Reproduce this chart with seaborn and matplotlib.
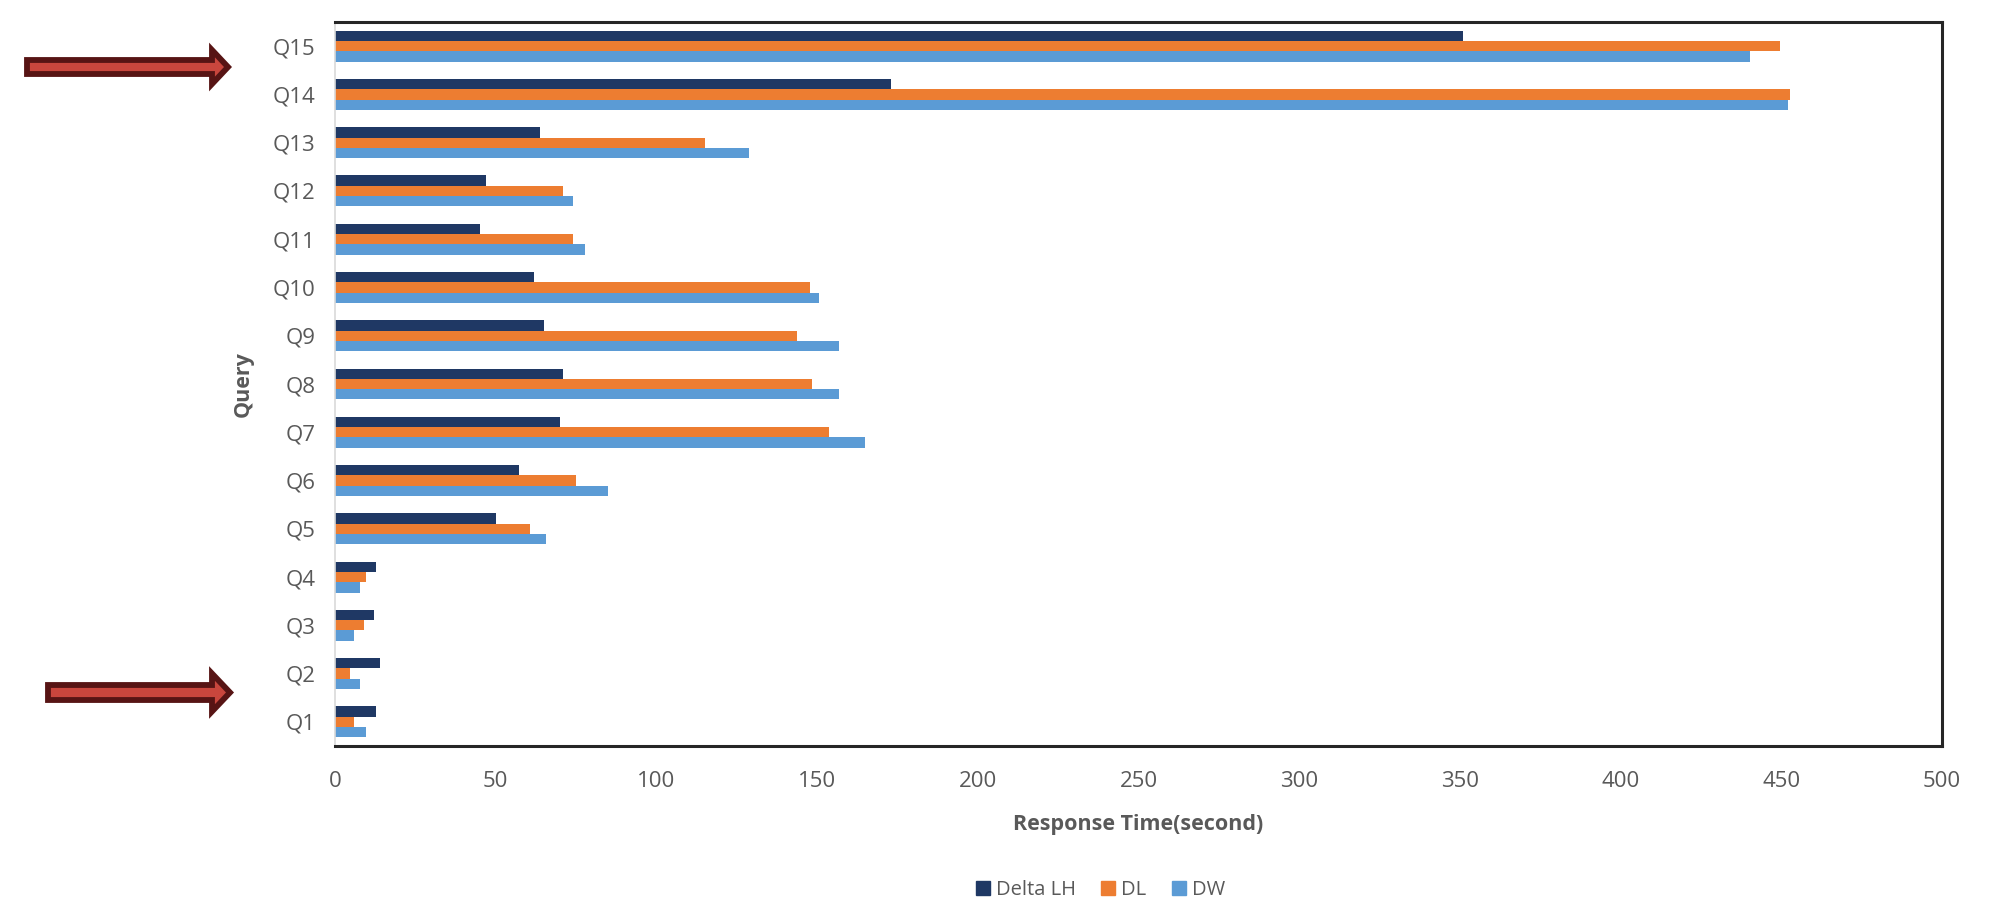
import numpy as np
import pandas as pd
import matplotlib.pyplot as plt
import seaborn as sns
from matplotlib.patches import Polygon
from matplotlib.lines import Line2D

# data (seconds)
queries = ['Q1', 'Q2', 'Q3', 'Q4', 'Q5', 'Q6', 'Q7', 'Q8', 'Q9', 'Q10',
           'Q11', 'Q12', 'Q13', 'Q14', 'Q15']
delta_lh = [12.8, 13.9, 12, 12.8, 50, 57.2, 70, 71, 65, 62, 45.2, 47, 63.9, 173, 351]
dl = [5.9, 4.8, 9, 9.8, 60.8, 75, 153.7, 148.5, 143.8, 147.8, 74, 70.8, 115, 452.7, 449.6]
dw = [9.8, 7.8, 5.9, 7.8, 65.8, 85, 164.8, 156.9, 156.9, 150.6, 77.8, 74, 128.7, 452, 440.4]
systems = ['Delta LH', 'DL', 'DW']
colors = ['#1F3864', '#ED7D31', '#5B9BD5']

df = pd.DataFrame({'Query': queries, 'Delta LH': delta_lh, 'DL': dl, 'DW': dw})
long_df = df.melt(id_vars='Query', var_name='System', value_name='Time')

sns.set_style('white')
plt.rcParams['font.family'] = ['Open Sans', 'DejaVu Sans']

W, H = 2002, 918
fig = plt.figure(figsize=(W / 100, H / 100), dpi=100)
ax = fig.add_axes([335 / W, 1 - 746 / H, (1942 - 335) / W, (746 - 22) / H])

sns.barplot(data=long_df, y='Query', x='Time', hue='System', orient='h',
            order=queries[::-1], hue_order=systems, palette=colors,
            saturation=1, width=0.64, ax=ax, legend=False, linewidth=0)

ax.set_xlim(0, 500)
ax.set_xticks(np.arange(0, 501, 50))
ax.tick_params(axis='both', length=0, labelsize=16, labelcolor='#595959')
ax.tick_params(axis='x', pad=18)
ax.tick_params(axis='y', pad=14)
ax.set_xlabel('Response Time(second)', fontsize=15.5, fontweight='bold',
              color='#595959', labelpad=16)
ax.set_ylabel('Query', fontsize=15.5, fontweight='bold', color='#595959',
              labelpad=14)

for side in ['top', 'bottom', 'right']:
    ax.spines[side].set_color('#262626')
    ax.spines[side].set_linewidth(2.2)
ax.spines['left'].set_color('#D9D9D9')
ax.spines['left'].set_linewidth(1.2)

# legend below the chart
handles = [Line2D([], [], marker='s', linestyle='none', markersize=10,
                  markerfacecolor=c, markeredgecolor=c) for c in colors]
fig.legend(handles, systems, loc='center', bbox_to_anchor=(1100 / W, 1 - 890 / H),
           ncol=3, frameon=False, fontsize=14.5, labelcolor='#595959',
           handletextpad=0.25, columnspacing=1.2, handlelength=0.8)


# red arrows on the left side
def arrow(x0, x1, xh, yc, hs, hh):
    pts = [(x0, yc - hs), (xh, yc - hs), (xh, yc - hh), (x1, yc),
           (xh, yc + hh), (xh, yc + hs), (x0, yc + hs)]
    pts = [(x / W, 1 - y / H) for x, y in pts]
    fig.patches.append(Polygon(pts, closed=True, transform=fig.transFigure,
                               facecolor='#C9463D', edgecolor='#571414',
                               linewidth=4.2, joinstyle='miter'))


arrow(27, 228, 212, 67, 7, 17)
arrow(48, 230, 212, 692.5, 7.5, 19)

fig.savefig('out.png', dpi=100, facecolor='white')
